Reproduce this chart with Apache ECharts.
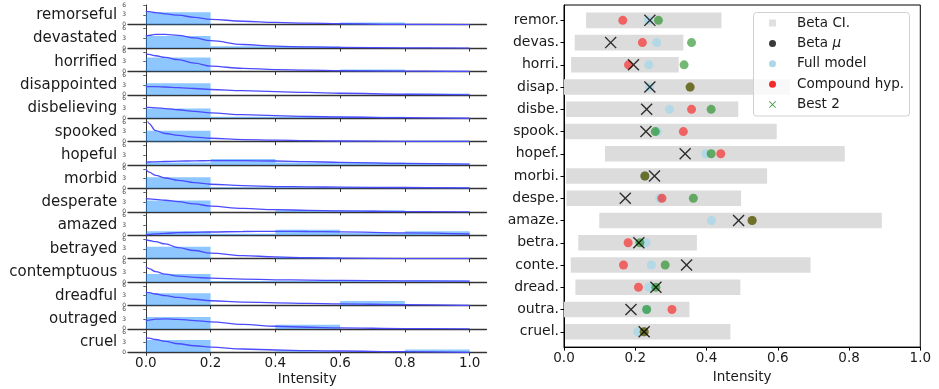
<!DOCTYPE html>
<html><head><meta charset="utf-8">
<script src="https://cdn.jsdelivr.net/npm/echarts@6/dist/echarts.min.js"></script>
<style>html,body{margin:0;padding:0;background:#fff}#c{width:939px;height:389px}</style>
</head><body><div id="c"></div>
<script>
// ---------- data ----------
const emotions = ['remorseful','devastated','horrified','disappointed','disbelieving','spooked','hopeful','morbid','desperate','amazed','betrayed','contemptuous','dreadful','outraged','cruel'];
const shortNames = ['remor.','devas.','horri.','disap.','disbe.','spook.','hopef.','morbi.','despe.','amaze.','betra.','conte.','dread.','outra.','cruel.'];
const intensityTicks = [0, 0.2, 0.4, 0.6, 0.8, 1.0];
const binEdges = [0, 0.2, 0.4, 0.6, 0.8, 1.0];
const histDensity = [
  [3.8, 0, 0, 0.7, 0],
  [3.65, 0.6, 0.6, 0, 0],
  [4.25, 0, 0, 0.6, 0],
  [3.55, 0, 0, 0, 0.4],
  [2.95, 0.5, 0.5, 0.5, 0],
  [3.35, 0, 0, 0, 0.3],
  [0.8, 1.85, 0.8, 0.8, 0.5],
  [3.45, 0.35, 0.35, 0.35, 0.35],
  [3.45, 0, 0.5, 0.5, 0],
  [1.2, 0.5, 1.7, 0.7, 1.2],
  [3.65, 0, 0.45, 0, 0],
  [2.45, 0.35, 0.35, 0.35, 0.5],
  [3.75, 0, 0, 1.4, 0],
  [3.65, 0, 1.3, 0, 0],
  [3.75, 0, 0.3, 0, 0.85]
];
const curveX = [0, 0.01, 0.03, 0.06, 0.1, 0.15, 0.2, 0.3, 0.4, 0.5, 0.6, 0.8, 1.0];
const curveDensity = [
  [4.16, 4.0, 3.7, 3.3, 2.9, 2.25, 1.65, 1.05, 0.7, 0.45, 0.3, 0.1, 0.02],
  [3.65, 3.9, 4.2, 4.2, 3.9, 3.1, 2.25, 1.1, 0.6, 0.35, 0.2, 0.05, 0],
  [5.4, 5.2, 4.8, 4.3, 3.6, 2.55, 1.65, 0.95, 0.6, 0.4, 0.25, 0.1, 0],
  [2.55, 2.55, 2.5, 2.4, 2.2, 1.95, 1.65, 1.3, 1.0, 0.75, 0.5, 0.2, 0],
  [3.35, 3.3, 3.2, 2.95, 2.6, 2.1, 1.65, 1.1, 0.8, 0.55, 0.4, 0.2, 0.02],
  [9.0, 5.5, 3.4, 2.5, 1.9, 1.4, 1.05, 0.65, 0.45, 0.3, 0.22, 0.12, 0.1],
  [0.9, 0.95, 1.0, 1.1, 1.2, 1.3, 1.35, 1.35, 1.25, 1.05, 0.85, 0.5, 0.3],
  [5.8, 5.0, 4.0, 3.2, 2.5, 1.8, 1.3, 0.85, 0.6, 0.5, 0.4, 0.3, 0.2],
  [4.0, 3.95, 3.8, 3.55, 3.1, 2.45, 1.75, 1.05, 0.7, 0.45, 0.3, 0.1, 0],
  [0.2, 0.3, 0.45, 0.6, 0.8, 0.9, 1.0, 1.15, 1.2, 1.15, 1.05, 0.75, 0.4],
  [5.7, 5.55, 5.2, 4.5, 3.4, 2.5, 1.7, 0.95, 0.55, 0.3, 0.15, 0.05, 0],
  [4.7, 4.1, 3.2, 2.4, 1.85, 1.45, 1.2, 0.9, 0.7, 0.6, 0.5, 0.4, 0.3],
  [4.1, 3.9, 3.5, 3.0, 2.45, 1.9, 1.45, 1.05, 0.8, 0.65, 0.5, 0.25, 0],
  [2.55, 2.7, 2.95, 3.05, 2.9, 2.55, 2.15, 1.35, 0.8, 0.5, 0.3, 0.1, 0],
  [4.5, 4.3, 3.9, 3.3, 2.6, 2.0, 1.55, 1.0, 0.7, 0.5, 0.4, 0.2, 0]
];
const ciLow  = [0.062, 0.030, 0.020, 0.0, 0.006, 0.003, 0.115, 0.006, 0.007, 0.099, 0.040, 0.019, 0.032, 0.0, 0.003];
const ciHigh = [0.442, 0.335, 0.322, 0.634, 0.489, 0.597, 0.788, 0.570, 0.497, 0.892, 0.373, 0.692, 0.495, 0.352, 0.467];
const betaMu = [0.241, 0.131, 0.195, 0.241, 0.232, 0.230, 0.340, 0.254, 0.172, 0.490, 0.210, 0.344, 0.258, 0.188, 0.225];
const fullModel = [0.237, 0.260, 0.238, 0.240, 0.296, 0.262, 0.398, 0.227, 0.269, 0.414, 0.230, 0.245, 0.238, 0.232, 0.207];
const compoundHyp = [0.165, 0.220, 0.181, 0.354, 0.358, 0.335, 0.440, 0.227, 0.275, 0.528, 0.180, 0.167, 0.209, 0.303, 0.225];
const best2 = [0.265, 0.358, 0.337, 0.354, 0.413, 0.256, 0.413, 0.227, 0.363, 0.528, 0.213, 0.284, 0.258, 0.232, 0.225];

// ---------- chart ----------
const FONT = 'DejaVu Sans';
const TXT = '#1a1a1a';
const X_PATH = 'path://M0,0.8L0.8,0L5,4.2L9.2,0L10,0.8L5.8,5L10,9.2L9.2,10L5,5.8L0.8,10L0,9.2L4.2,5Z';
const n = emotions.length;
const grids = [], xAxes = [], yAxes = [], series = [];

for (let i = 0; i < n; i++) {
  grids.push({left: 128, width: 358.5, top: 5 + 23.4 * i, height: 19.7});
  const last = i === n - 1;
  xAxes.push({
    type: 'value', gridIndex: i, min: -0.055, max: 1.052,
    axisLine: {show: true, onZero: false, lineStyle: {color: '#333', width: 1.3}},
    axisTick: {show: true, customValues: intensityTicks, length: 3.5, lineStyle: {color: '#333', width: 1}},
    axisLabel: {show: last, customValues: intensityTicks, formatter: v => v.toFixed(1), fontSize: 13.5, fontFamily: FONT, color: TXT, margin: 4},
    splitLine: {show: false},
    name: last ? 'Intensity' : '', nameLocation: 'middle', nameGap: 20,
    nameTextStyle: {fontSize: 13.5, fontFamily: FONT, color: TXT}
  });
  yAxes.push({
    type: 'value', gridIndex: i, min: 0, max: 6, interval: 3,
    axisLine: {show: true, lineStyle: {color: '#333', width: 1}},
    axisTick: {show: true, length: 2.5, lineStyle: {color: '#333', width: 0.8}},
    axisLabel: {fontSize: 6, fontFamily: FONT, color: '#444', margin: 2, showMinLabel: true, showMaxLabel: true},
    splitLine: {show: false},
    name: emotions[i], nameLocation: 'middle', nameRotate: 0, nameGap: 10,
    nameTextStyle: {fontSize: 15, fontFamily: FONT, color: TXT, align: 'right', verticalAlign: 'middle'}
  });
  const histData = histDensity[i].map((h, b) => [binEdges[b], binEdges[b + 1], h]);
  series.push({
    type: 'custom', xAxisIndex: i, yAxisIndex: i, clip: true, silent: true,
    data: histData,
    renderItem: (params, api) => {
      const p0 = api.coord([api.value(0), api.value(2)]);
      const p1 = api.coord([api.value(1), 0]);
      return {type: 'rect', shape: {x: p0[0], y: p0[1], width: p1[0] - p0[0], height: p1[1] - p0[1]},
              style: {fill: 'rgba(30,144,255,0.5)'}};
    }
  });
  series.push({
    type: 'line', xAxisIndex: i, yAxisIndex: i, clip: true, silent: true,
    symbol: 'none', smooth: 0.4, smoothMonotone: 'x',
    lineStyle: {color: '#4b4bff', width: 1.3},
    data: curveX.map((x, j) => [x, curveDensity[i][j]])
  });
}

// right panel
const R = n;
grids.push({left: 564, width: 356.3, top: 5, height: 346.7, show: true, borderColor: '#000', borderWidth: 1, backgroundColor: 'transparent'});
xAxes.push({
  type: 'value', gridIndex: R, min: 0, max: 1, interval: 0.2,
  axisLine: {show: true, onZero: false, lineStyle: {color: '#000', width: 1}},
  axisTick: {show: true, length: 3.5, lineStyle: {color: '#000'}},
  axisLabel: {formatter: v => v.toFixed(1), fontSize: 13.5, fontFamily: FONT, color: TXT, margin: 4},
  splitLine: {show: false},
  name: 'Intensity', nameLocation: 'middle', nameGap: 20,
  nameTextStyle: {fontSize: 13.5, fontFamily: FONT, color: TXT}
});
const rowIdx = shortNames.map((_, k) => k);
yAxes.push({
  type: 'value', gridIndex: R, inverse: true, min: -0.69, max: 14.69,
  axisLine: {show: true, onZero: false, lineStyle: {color: '#000', width: 1}},
  axisTick: {show: true, customValues: rowIdx, length: 3.5, lineStyle: {color: '#000'}},
  axisLabel: {customValues: rowIdx, formatter: v => shortNames[Math.round(v)], fontSize: 14, fontFamily: FONT, color: TXT, margin: 5},
  splitLine: {show: false}
});

series.push({
  name: 'Beta CI.', type: 'custom', xAxisIndex: R, yAxisIndex: R, clip: true, silent: true,
  itemStyle: {color: '#dcdcdc'},
  data: shortNames.map((_, k) => [ciLow[k], ciHigh[k], k]),
  renderItem: (params, api) => {
    const p0 = api.coord([api.value(0), api.value(2)]);
    const p1 = api.coord([api.value(1), api.value(2)]);
    const h = api.size([0, 0.7])[1];
    return {type: 'rect', shape: {x: p0[0], y: p0[1] - h / 2, width: p1[0] - p0[0], height: h},
            style: {fill: '#dcdcdc'}};
  }
});
function dots(name, vals, color, opacity) {
  return {
    name, type: 'scatter', xAxisIndex: R, yAxisIndex: R, symbol: 'circle', symbolSize: 9,
    itemStyle: {color, opacity}, silent: true,
    data: vals.map((v, k) => [v, k])
  };
}
series.push(dots('Full model', fullModel, 'rgb(173,216,230)', 0.9));
series.push(dots('Compound hyp.', compoundHyp, 'rgb(255,0,0)', 0.55));
series.push(dots('Best 2', best2, 'rgb(0,128,0)', 0.55));
series.push({
  name: 'Beta μ', type: 'scatter', xAxisIndex: R, yAxisIndex: R, symbol: X_PATH, symbolSize: 12,
  itemStyle: {color: '#000'}, silent: true,
  data: betaMu.map((v, k) => [v, k])
});

const option = {
  animation: false,
  backgroundColor: '#fff',
  textStyle: {fontFamily: FONT},
  grid: grids, xAxis: xAxes, yAxis: yAxes, series,
  graphic: [{
    type: 'rect', z: 10, silent: true,
    shape: {x: 753.5, y: 12.5, width: 156, height: 103.5, r: 3},
    style: {fill: 'rgba(255,255,255,0.8)', stroke: '#d0d0d0', lineWidth: 1}
  }],
  legend: {
    z: 20,
    orient: 'vertical', left: 769, top: 12, padding: [4, 6, 4, 0],
    itemWidth: 39, itemHeight: 7, itemGap: 6.4, selectedMode: false,
    textStyle: {fontSize: 13.5, fontFamily: FONT, color: TXT, lineHeight: 14,
      rich: {i: {fontStyle: 'italic', fontSize: 13.5, fontFamily: FONT, color: TXT}}},
    formatter: name => name === 'Beta μ' ? 'Beta {i|μ}' : name,
    data: [
      {name: 'Beta CI.', icon: 'path://M0,0H10V10H0Z', itemStyle: {color: '#e0e0e0', opacity: 1}},
      {name: 'Beta μ', icon: 'circle', itemStyle: {color: '#3a3a3a', opacity: 1}},
      {name: 'Full model', icon: 'circle', itemStyle: {color: '#add8e6', opacity: 1}},
      {name: 'Compound hyp.', icon: 'circle', itemStyle: {color: '#f52a2a', opacity: 1}},
      {name: 'Best 2', icon: X_PATH, itemStyle: {color: '#3a9a3a', opacity: 1}}
    ]
  }
};
const chart = echarts.init(document.getElementById('c'), null, {renderer: 'canvas'});
chart.setOption(option);
</script>
</body></html>
